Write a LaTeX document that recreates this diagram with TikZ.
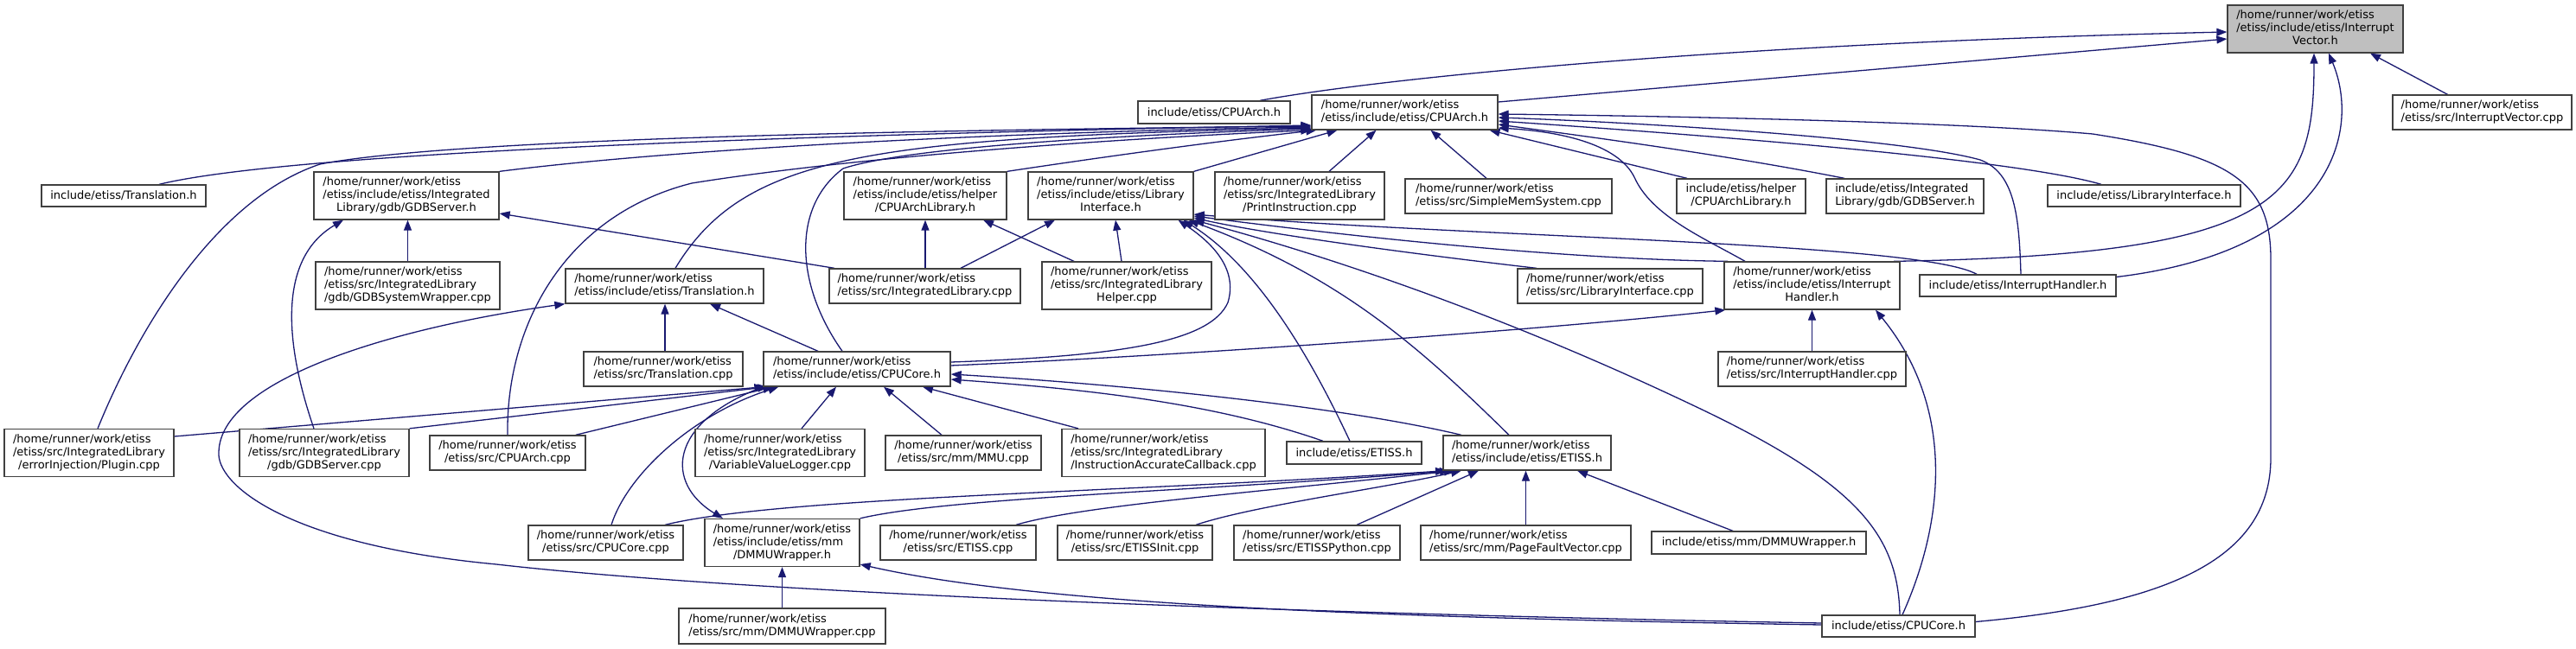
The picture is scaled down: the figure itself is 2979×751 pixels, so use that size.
\documentclass[tikz,border=0pt]{standalone}
\usepackage{fontspec}
\setmainfont{DejaVu Sans}
\usetikzlibrary{arrows.meta}
\definecolor{edgec}{RGB}{25,25,112}
\definecolor{boxc}{RGB}{64,64,64}
\definecolor{fillc}{RGB}{191,191,191}
\newcommand{\flines}[1]{\begin{tabular}{@{}l@{}}#1\end{tabular}}
\newcommand{\flast}[1]{\multicolumn{1}{@{}c@{}}{#1}}
\pgfdeclarelayer{bg}
\pgfsetlayers{bg,main}
\begin{document}
\begin{tikzpicture}[x=1pt,y=-1pt,
  filebox/.style={draw=boxc, line width=1.3pt, fill=white, inner sep=0pt, font=\fontsize{13}{15}\selectfont},
  edge/.style={draw=edgec, line width=1.3pt, -{Triangle[length=12pt,width=9pt]}}]
\useasboundingbox (0,0) rectangle (2979,751);
% nodes
\node[filebox,minimum width=203pt,minimum height=55pt,fill=fillc] (IV) at (2677.5,33.5) {\flines{/home/runner/work/etiss\\/etiss/include/etiss/Interrupt\\\flast{Vector.h}}};
\node[filebox,minimum width=176pt,minimum height=26pt] (CAinc) at (1404,130) {include/etiss/CPUArch.h};
\node[filebox,minimum width=215pt,minimum height=40pt] (CAfull) at (1624.5,130) {\flines{/home/runner/work/etiss\\\flast{/etiss/include/etiss/CPUArch.h}}};
\node[filebox,minimum width=207pt,minimum height=40pt] (IVcpp) at (2870.5,130) {\flines{/home/runner/work/etiss\\\flast{/etiss/src/InterruptVector.cpp}}};
\node[filebox,minimum width=190pt,minimum height=25pt] (TrInc) at (143,226.5) {include/etiss/Translation.h};
\node[filebox,minimum width=214pt,minimum height=55pt] (GDBh) at (470,226.5) {\flines{/home/runner/work/etiss\\/etiss/include/etiss/Integrated\\\flast{Library/gdb/GDBServer.h}}};
\node[filebox,minimum width=188pt,minimum height=55pt] (CALh) at (1070,226.5) {\flines{/home/runner/work/etiss\\/etiss/include/etiss/helper\\\flast{/CPUArchLibrary.h}}};
\node[filebox,minimum width=191pt,minimum height=55pt] (LIh) at (1284.5,226.5) {\flines{/home/runner/work/etiss\\/etiss/include/etiss/Library\\\flast{Interface.h}}};
\node[filebox,minimum width=196pt,minimum height=55pt] (PI) at (1503,226.5) {\flines{/home/runner/work/etiss\\/etiss/src/IntegratedLibrary\\\flast{/PrintInstruction.cpp}}};
\node[filebox,minimum width=239pt,minimum height=40pt] (SMS) at (1744.5,227) {\flines{/home/runner/work/etiss\\\flast{/etiss/src/SimpleMemSystem.cpp}}};
\node[filebox,minimum width=149pt,minimum height=40pt] (CALinc) at (2013.5,227) {\flines{include/etiss/helper\\\flast{/CPUArchLibrary.h}}};
\node[filebox,minimum width=182pt,minimum height=40pt] (GDBinc) at (2203,227) {\flines{include/etiss/Integrated\\\flast{Library/gdb/GDBServer.h}}};
\node[filebox,minimum width=223pt,minimum height=25pt] (LIinc) at (2479.5,226.5) {include/etiss/LibraryInterface.h};
\node[filebox,minimum width=213pt,minimum height=55pt] (GDBSW) at (471.5,330.5) {\flines{/home/runner/work/etiss\\/etiss/src/IntegratedLibrary\\\flast{/gdb/GDBSystemWrapper.cpp}}};
\node[filebox,minimum width=229pt,minimum height=40pt] (TrFull) at (768.5,331) {\flines{/home/runner/work/etiss\\\flast{/etiss/include/etiss/Translation.h}}};
\node[filebox,minimum width=221pt,minimum height=40pt] (ILcpp) at (1069.5,331) {\flines{/home/runner/work/etiss\\\flast{/etiss/src/IntegratedLibrary.cpp}}};
\node[filebox,minimum width=196pt,minimum height=55pt] (ILH) at (1303,330.5) {\flines{/home/runner/work/etiss\\/etiss/src/IntegratedLibrary\\\flast{Helper.cpp}}};
\node[filebox,minimum width=214pt,minimum height=40pt] (LIcpp) at (1862,331) {\flines{/home/runner/work/etiss\\\flast{/etiss/src/LibraryInterface.cpp}}};
\node[filebox,minimum width=203pt,minimum height=55pt] (IHh) at (2095.5,330.5) {\flines{/home/runner/work/etiss\\/etiss/include/etiss/Interrupt\\\flast{Handler.h}}};
\node[filebox,minimum width=227pt,minimum height=25pt] (IHinc) at (2333.5,330.5) {include/etiss/InterruptHandler.h};
\node[filebox,minimum width=184pt,minimum height=40pt] (TrCpp) at (767,427) {\flines{/home/runner/work/etiss\\\flast{/etiss/src/Translation.cpp}}};
\node[filebox,minimum width=216pt,minimum height=40pt] (CCh) at (991,427) {\flines{/home/runner/work/etiss\\\flast{/etiss/include/etiss/CPUCore.h}}};
\node[filebox,minimum width=217pt,minimum height=40pt] (IHcpp) at (2095.5,427) {\flines{/home/runner/work/etiss\\\flast{/etiss/src/InterruptHandler.cpp}}};
\node[filebox,minimum width=196pt,minimum height=55pt] (EIP) at (103,524) {\flines{/home/runner/work/etiss\\/etiss/src/IntegratedLibrary\\\flast{/errorInjection/Plugin.cpp}}};
\node[filebox,minimum width=196pt,minimum height=55pt] (GDBcpp) at (375,524) {\flines{/home/runner/work/etiss\\/etiss/src/IntegratedLibrary\\\flast{/gdb/GDBServer.cpp}}};
\node[filebox,minimum width=180pt,minimum height=40pt] (CAcpp) at (587,524) {\flines{/home/runner/work/etiss\\\flast{/etiss/src/CPUArch.cpp}}};
\node[filebox,minimum width=196pt,minimum height=55pt] (VVL) at (902,524) {\flines{/home/runner/work/etiss\\/etiss/src/IntegratedLibrary\\\flast{/VariableValueLogger.cpp}}};
\node[filebox,minimum width=180pt,minimum height=40pt] (MMU) at (1114,524) {\flines{/home/runner/work/etiss\\\flast{/etiss/src/mm/MMU.cpp}}};
\node[filebox,minimum width=235pt,minimum height=55pt] (IAC) at (1345.5,524) {\flines{/home/runner/work/etiss\\/etiss/src/IntegratedLibrary\\\flast{/InstructionAccurateCallback.cpp}}};
\node[filebox,minimum width=156pt,minimum height=26pt] (ETinc) at (1566,524) {include/etiss/ETISS.h};
\node[filebox,minimum width=194pt,minimum height=40pt] (ETh) at (1766,524) {\flines{/home/runner/work/etiss\\\flast{/etiss/include/etiss/ETISS.h}}};
\node[filebox,minimum width=179pt,minimum height=40pt] (CCcpp) at (700.5,628) {\flines{/home/runner/work/etiss\\\flast{/etiss/src/CPUCore.cpp}}};
\node[filebox,minimum width=179pt,minimum height=55pt] (DWh) at (904.5,628) {\flines{/home/runner/work/etiss\\/etiss/include/etiss/mm\\\flast{/DMMUWrapper.h}}};
\node[filebox,minimum width=180pt,minimum height=40pt] (ETcpp) at (1108,628) {\flines{/home/runner/work/etiss\\\flast{/etiss/src/ETISS.cpp}}};
\node[filebox,minimum width=179pt,minimum height=40pt] (ETinit) at (1312.5,628) {\flines{/home/runner/work/etiss\\\flast{/etiss/src/ETISSInit.cpp}}};
\node[filebox,minimum width=192pt,minimum height=40pt] (ETpy) at (1523,628) {\flines{/home/runner/work/etiss\\\flast{/etiss/src/ETISSPython.cpp}}};
\node[filebox,minimum width=243pt,minimum height=40pt] (PFV) at (1764.5,628) {\flines{/home/runner/work/etiss\\\flast{/etiss/src/mm/PageFaultVector.cpp}}};
\node[filebox,minimum width=248pt,minimum height=26pt] (DWinc) at (2034,628) {include/etiss/mm/DMMUWrapper.h};
\node[filebox,minimum width=239pt,minimum height=41pt] (DWcpp) at (904.5,724.5) {\flines{/home/runner/work/etiss\\\flast{/etiss/src/mm/DMMUWrapper.cpp}}};
\node[filebox,minimum width=177pt,minimum height=25pt] (CCinc) at (2195.5,724.5) {include/etiss/CPUCore.h};
% edges
\begin{pgfonlayer}{bg}
% into InterruptVector.h
\draw[edge] ([xshift=53pt]CAinc.north) .. controls (1600,90) and (2000,50) .. ([yshift=-3.5pt]IV.west);
\draw[edge] ([yshift=12pt]CAfull.east) -- ([yshift=-11.5pt]IV.west);
\draw[edge] ([xshift=-40pt]IVcpp.north) -- ([xshift=63.5pt]IV.south);
\draw[edge] ([xshift=94.5pt]IHh.north) .. controls (2640,295) and (2676,230) .. ([xshift=-1.5pt]IV.south);
\draw[edge] ([yshift=10pt]IHinc.east) .. controls (2700,290) and (2730,150) .. ([xshift=15.5pt]IV.south);
% into CPUArch.h (right side)
\draw[edge] ([yshift=5pt]CCinc.east) .. controls (2500,700) and (2626,650) .. (2626,530) -- (2626,300) .. controls (2626,210) and (2580,180) .. (2420,155) .. controls (2250,140) and (1900,134) .. ([yshift=-2pt]CAfull.east);
\draw[edge] ([xshift=3.5pt]IHinc.north) .. controls (2335,250) and (2330,200) .. (2290,185) .. controls (2200,160) and (1900,142) .. ([yshift=-6pt]CAfull.east);
\draw[edge] ([xshift=-49.5pt]LIinc.north) .. controls (2350,190) and (2100,165) .. ([yshift=-10pt]CAfull.east);
\draw[edge] ([xshift=-70pt]GDBinc.north) .. controls (2000,180) and (1850,160) .. ([yshift=-14pt]CAfull.east);
\draw[edge] ([xshift=-77.5pt]IHh.north) .. controls (1970,275) and (1910,250) .. (1890,205) .. controls (1870,165) and (1800,152) .. ([yshift=-18pt]CAfull.east);
\draw[edge] ([xshift=-62.5pt]CALinc.north) -- ([xshift=98pt]CAfull.south);
\draw[edge] ([xshift=-25.5pt]SMS.north) -- ([xshift=30pt]CAfull.south);
\draw[edge] ([xshift=34pt]PI.north) -- ([xshift=-33pt]CAfull.south);
\draw[edge] (LIh.north east) -- ([xshift=-78pt]CAfull.south);
% into CPUArch.h (left side)
\draw[edge] ([xshift=41pt]TrInc.north) .. controls (300,185) and (700,160) .. ([yshift=-15pt]CAfull.west);
\draw[edge] ([xshift=10pt]EIP.north) .. controls (160,380) and (250,230) .. (370,190) .. controls (500,165) and (900,152) .. ([yshift=-16pt]CAfull.west);
\draw[edge] (GDBh.north east) .. controls (800,170) and (1200,152) .. ([yshift=-17pt]CAfull.west);
\draw[edge] ([xshift=12.5pt]TrFull.north) .. controls (860,180) and (1000,160) .. ([yshift=-18pt]CAfull.west);
\draw[edge] ([xshift=-17pt]CCh.north) .. controls (920,330) and (915,240) .. (975,195) .. controls (1050,170) and (1300,156) .. ([yshift=-19pt]CAfull.west);
\draw[edge] (CAcpp.north) .. controls (585,380) and (650,250) .. (800,212) .. controls (1000,180) and (1300,160) .. (CAfull.south west);
\draw[edge] (CALh.north east) .. controls (1300,178) and (1420,162) .. ([xshift=6pt]CAfull.south west);
% into GDBServer.h
\draw[edge] ([xshift=-104.5pt]ILcpp.north) -- ([yshift=-20.5pt]GDBh.east);
\draw[edge] (GDBSW.north) -- ([xshift=1.5pt]GDBh.south);
\draw[edge] ([xshift=-12pt]GDBcpp.north) .. controls (330,400) and (320,300) .. ([xshift=-73pt]GDBh.south);
% into CPUArchLibrary.h
\draw[edge] ([xshift=0.5pt]ILcpp.north) -- (CALh.south);
\draw[edge] ([xshift=-61pt]ILH.north) -- ([xshift=67pt]CALh.south);
% into LibraryInterface.h
\draw[edge] ([xshift=41.5pt]ILcpp.north) -- ([xshift=-64.5pt]LIh.south);
\draw[edge] ([xshift=-6pt]ILH.north) -- ([xshift=5.5pt]LIh.south);
\draw[edge] ([xshift=-85pt]LIcpp.north) .. controls (1600,290) and (1450,268) .. ([yshift=-25.5pt]LIh.east);
\draw[edge] ([xshift=-97.5pt]IHh.north) .. controls (1800,300) and (1550,272) .. ([yshift=-23.5pt]LIh.east);
\draw[edge] ([xshift=-47.5pt]IHinc.north) .. controls (2220,280) and (1700,275) .. ([yshift=-21.5pt]LIh.east);
\draw[edge] ([xshift=-21pt]ETh.north) .. controls (1640,400) and (1550,320) .. ([xshift=90pt]LIh.south);
\draw[edge] ([xshift=-5pt]ETinc.north) .. controls (1500,380) and (1440,300) .. ([xshift=84pt]LIh.south);
\draw[edge] ([xshift=1.5pt]CCinc.north) .. controls (2195,620) and (2150,560) .. (1960,470) .. controls (1750,370) and (1550,300) .. (LIh.south east);
\draw[edge] ([yshift=8pt]CCh.east) .. controls (1300,412) and (1400,395) .. (1420,350) .. controls (1432,310) and (1400,280) .. ([xshift=78pt]LIh.south);
% into CPUCore.h (full path)
\draw[edge] ([xshift=25pt]VVL.north) -- ([xshift=-24pt]CCh.south);
\draw[edge] ([xshift=-25pt]MMU.north) -- ([xshift=31pt]CCh.south);
\draw[edge] ([xshift=-98.5pt]IAC.north) -- ([xshift=76pt]CCh.south);
\draw[edge] ([xshift=-36pt]ETinc.north) .. controls (1400,465) and (1250,450) .. ([yshift=-12pt]CCh.east);
\draw[edge] ([xshift=-76pt]ETh.north) .. controls (1550,470) and (1300,445) .. ([yshift=-6pt]CCh.east);
\draw[edge] ([yshift=19pt]EIP.east) -- ([xshift=2pt]CCh.south west);
\draw[edge] (GDBcpp.north east) -- ([xshift=6pt]CCh.south west);
\draw[edge] ([xshift=-12pt]CAcpp.north east) -- ([xshift=12pt]CCh.south west);
\draw[edge] ([xshift=6.5pt]CCcpp.north) .. controls (725,550) and (800,480) .. ([xshift=18pt]CCh.south west);
% into DMMUWrapper.h
\draw[edge] (CCh.south west) .. controls (770,490) and (770,560) .. ([xshift=-68.5pt]DWh.north);
\draw[edge] ([yshift=1.5pt]CCinc.west) .. controls (1600,715) and (1200,700) .. ([yshift=-25pt]DWh.east);
\draw[edge] (DWcpp.north) -- (DWh.south);
% into Translation.h (full path)
\draw[edge] ([xshift=2pt]TrCpp.north) -- ([xshift=0.5pt]TrFull.south);
\draw[edge] ([xshift=-45pt]CCh.north) -- ([xshift=52.5pt]TrFull.south);
\draw[edge] ([yshift=3.5pt]CCinc.west) .. controls (1600,712) and (900,690) .. (574,653) .. controls (330,630) and (250,560) .. (253,523) .. controls (255,440) and (450,380) .. (TrFull.south west);
% into InterruptHandler.h (full path)
\draw[edge] (IHcpp.north) -- (IHh.south);
\draw[edge] ([yshift=4pt]CCh.east) .. controls (1400,410) and (1800,380) .. ([xshift=2pt]IHh.south west);
\draw[edge] ([xshift=4.5pt]CCinc.north) .. controls (2250,600) and (2260,470) .. ([xshift=73.5pt]IHh.south);
% into ETISS.h (full path)
\draw[edge] ([xshift=68.5pt]CCcpp.north) .. controls (900,575) and (1300,570) .. ([xshift=-94pt]ETh.south);
\draw[edge] (DWh.north east) .. controls (1100,575) and (1400,568) .. ([xshift=-89pt]ETh.south);
\draw[edge] ([xshift=67pt]ETcpp.north) .. controls (1250,585) and (1450,570) .. ([xshift=-84pt]ETh.south);
\draw[edge] ([xshift=70.5pt]ETinit.north) .. controls (1450,585) and (1600,565) .. ([xshift=-76pt]ETh.south);
\draw[edge] ([xshift=46pt]ETpy.north) -- ([xshift=-56pt]ETh.south);
\draw[edge] (PFV.north) -- ([xshift=-1.5pt]ETh.south);
\draw[edge] ([xshift=-30pt]DWinc.north) -- ([xshift=58pt]ETh.south);
\end{pgfonlayer}
\end{tikzpicture}
\end{document}
